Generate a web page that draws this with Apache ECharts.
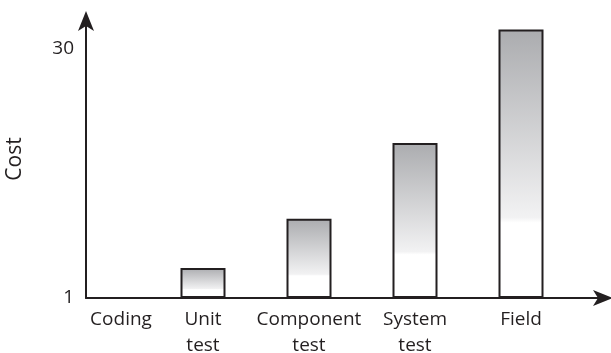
<!DOCTYPE html>
<html>
<head>
<meta charset="utf-8">
<script src="https://cdn.jsdelivr.net/npm/echarts@6/dist/echarts.min.js"></script>
<style>
  html, body { margin: 0; padding: 0; background: #fff; }
  #chart { width: 611px; height: 353px; }
</style>
</head>
<body>
<div id="chart"></div>
<script>
// Relative cost of fixing a defect, by phase in which it is found
const phases = ['Coding', 'Unit\ntest', 'Component\ntest', 'System\ntest', 'Field'];
const cost = [1, 4.5, 10.2, 19, 32.2];
const costTicks = [1, 30];
const costMin = 1;
const costMax = 33.3;

const ink = '#231f20';
const font = '"Open Sans"';

const chart = echarts.init(document.getElementById('chart'), null, { renderer: 'canvas' });

// a bar sitting on the baseline has no height, so it gets no outline either
const barData = cost.map(function (v) {
  return v <= costMin ? { value: v, itemStyle: { borderWidth: 0 } } : v;
});

const arrowLine = {
  show: true,
  symbol: ['none', 'arrow'],
  symbolSize: [12, 20],
  symbolOffset: [0, 9],
  lineStyle: { color: ink, width: 2 }
};

chart.setOption({
  animation: false,
  backgroundColor: '#ffffff',
  grid: [
    // plotting area for the bars and the phase labels
    { left: 44, right: 37, top: 20, bottom: 55, containLabel: false, outerBoundsMode: 'none' },
    // frame carrying the arrowed axis lines
    { left: 86, right: 7, top: 20, bottom: 55, containLabel: false, outerBoundsMode: 'none' }
  ],
  xAxis: [
    {
      gridIndex: 0,
      type: 'category',
      data: phases,
      axisLine: { show: false },
      axisTick: { show: false },
      axisLabel: {
        interval: 0,
        margin: 9,
        color: ink,
        fontFamily: font,
        fontSize: 19,
        lineHeight: 26,
        formatter: function (v, i) {
          return i === 0 ? '{first|' + v + '}' : v;
        },
        rich: {
          first: { color: ink, fontFamily: font, fontSize: 19, lineHeight: 26, padding: [0, 0, 0, 48] }
        }
      },
      splitLine: { show: false }
    },
    {
      gridIndex: 1,
      type: 'value',
      min: 0,
      max: 1,
      axisLine: arrowLine,
      axisTick: { show: false },
      axisLabel: { show: false },
      splitLine: { show: false }
    }
  ],
  yAxis: [
    {
      gridIndex: 0,
      type: 'value',
      min: costMin,
      max: costMax,
      startValue: costMin,
      show: false,
      splitLine: { show: false }
    },
    {
      gridIndex: 1,
      type: 'value',
      min: costMin,
      max: costMax,
      name: 'Cost',
      nameLocation: 'middle',
      nameGap: 60,
      nameTextStyle: { color: ink, fontFamily: font, fontSize: 21 },
      axisLine: arrowLine,
      axisTick: { show: false },
      axisLabel: {
        customValues: costTicks,
        margin: 12,
        color: ink,
        fontFamily: font,
        fontSize: 19,
        padding: [0, 0, 3, 0]
      },
      splitLine: { show: false }
    }
  ],
  series: [
    {
      type: 'bar',
      xAxisIndex: 0,
      yAxisIndex: 0,
      data: barData,
      barWidth: 45,
      clip: true,
      itemStyle: {
        borderColor: ink,
        borderWidth: 2,
        color: new echarts.graphic.LinearGradient(0, 0, 0, 1, [
          { offset: 0, color: '#abacaf' },
          { offset: 0.7, color: '#f2f2f3' },
          { offset: 0.72, color: '#ffffff' },
          { offset: 1, color: '#ffffff' }
        ])
      }
    }
  ]
});
</script>
</body>
</html>
